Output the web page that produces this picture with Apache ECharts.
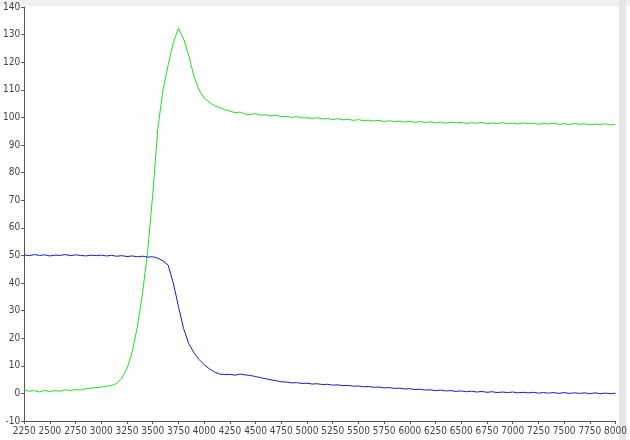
<!DOCTYPE html>
<html>
<head>
<meta charset="utf-8">
<script src="https://cdn.jsdelivr.net/npm/echarts@6/dist/echarts.min.js"></script>
<style>
  html, body { margin: 0; padding: 0; background: #fff; }
  #chart { width: 630px; height: 440px; }
</style>
</head>
<body>
<div id="chart"></div>
<script>
  // x positions of the samples
  const xs = [
    2250, 2300, 2350, 2400, 2450, 2500, 2550, 2600, 2650, 2700,
    2750, 2800, 2850, 2900, 2950, 3000, 3050, 3100, 3150, 3200,
    3250, 3300, 3350, 3400, 3450, 3500, 3550, 3600, 3650, 3700,
    3750, 3800, 3850, 3900, 3950, 4000, 4050, 4100, 4150, 4200,
    4250, 4300, 4350, 4400, 4450, 4500, 4550, 4600, 4650, 4700,
    4750, 4800, 4850, 4900, 4950, 5000, 5050, 5100, 5150, 5200,
    5250, 5300, 5350, 5400, 5450, 5500, 5550, 5600, 5650, 5700,
    5750, 5800, 5850, 5900, 5950, 6000, 6050, 6100, 6150, 6200,
    6250, 6300, 6350, 6400, 6450, 6500, 6550, 6600, 6650, 6700,
    6750, 6800, 6850, 6900, 6950, 7000, 7050, 7100, 7150, 7200,
    7250, 7300, 7350, 7400, 7450, 7500, 7550, 7600, 7650, 7700,
    7750, 7800, 7850, 7900, 7950, 8000
  ];

  // green trace
  const greenVals = [
    1.2, 0.8, 1.0, 0.5, 1.1, 0.7, 1.0, 0.8, 1.3, 1.0,
    1.4, 1.2, 1.7, 1.9, 2.1, 2.3, 2.6, 2.9, 3.6, 5.5,
    9.0, 15.0, 24.0, 36.0, 51.0, 72.0, 96.0, 110.0, 119.0, 127.0,
    132.3, 128.5, 122.5, 115.0, 110.0, 107.0, 105.5, 104.2, 103.6, 102.8,
    102.3, 101.7, 101.9, 101.2, 101.0, 101.4, 100.8, 100.9, 100.5, 100.8,
    100.3, 100.4, 100.0, 100.3, 99.8, 99.9, 99.6, 99.9, 99.4, 99.6,
    99.2, 99.5, 99.1, 99.3, 98.9, 99.2, 98.8, 99.0, 98.7, 98.9,
    98.5, 98.8, 98.4, 98.7, 98.3, 98.6, 98.2, 98.5, 98.1, 98.4,
    98.0, 98.3, 97.9, 98.3, 98.0, 98.2, 97.8, 98.1, 97.9, 98.2,
    97.7, 98.0, 97.8, 98.1, 97.7, 97.9, 97.6, 98.0, 97.7, 97.9,
    97.5, 97.8, 97.6, 97.9, 97.5, 97.7, 97.4, 97.8, 97.5, 97.7,
    97.3, 97.6, 97.4, 97.7, 97.3, 97.5
  ];

  // blue trace
  const blueVals = [
    50.2, 49.9, 50.3, 50.0, 50.2, 49.8, 50.1, 50.0, 50.3, 49.9,
    50.2, 50.0, 49.8, 50.1, 49.9, 50.1, 49.8, 50.0, 49.7, 49.9,
    49.6, 49.8, 49.5, 49.7, 49.4, 49.5, 49.0, 48.0, 46.5, 40.0,
    31.5, 23.5, 18.0, 14.8, 12.3, 10.4, 8.9, 7.8, 7.0, 6.8,
    6.9, 6.6, 7.0, 6.7, 6.5, 6.1, 5.7, 5.3, 4.9, 4.6,
    4.2, 4.1, 3.8, 3.9, 3.6, 3.7, 3.4, 3.5, 3.2, 3.3,
    3.0, 3.1, 2.8, 2.9, 2.6, 2.7, 2.4, 2.5, 2.2, 2.3,
    2.0, 2.1, 1.8, 1.9, 1.6, 1.7, 1.4, 1.5, 1.2, 1.3,
    1.0, 1.2, 0.9, 1.0, 0.7, 0.9, 0.6, 0.8, 0.5, 0.7,
    0.4, 0.6, 0.3, 0.5, 0.3, 0.5, 0.2, 0.4, 0.2, 0.4,
    0.1, 0.3, 0.1, 0.3, 0.0, 0.3, 0.0, 0.2, 0.0, 0.2,
    -0.1, 0.2, -0.1, 0.1, -0.1, 0.1
  ];

  const pairs = (vals) => xs.map((x, i) => [x, vals[i]]);
  const labelFont = "'Liberation Sans Narrow', 'DejaVu Sans Condensed', sans-serif";

  const chart = echarts.init(document.getElementById('chart'));
  chart.setOption({
    animation: false,
    backgroundColor: '#ffffff',
    grid: { left: 19, right: 12, top: 7, bottom: 19 },
    graphic: [
      { type: 'rect', shape: { x: 0, y: 0, width: 630, height: 6 }, style: { fill: '#f0f0f0' }, silent: true },
      { type: 'rect', shape: { x: 619, y: 0, width: 7, height: 440 }, style: { fill: '#e6e6e6' }, silent: true }
    ],
    xAxis: {
      type: 'value',
      min: 2250,
      max: 8000,
      interval: 250,
      splitLine: { show: false },
      axisLine: { onZero: false, lineStyle: { color: '#555', width: 1 } },
      axisTick: { length: 3, lineStyle: { color: '#555' } },
      axisLabel: {
        color: '#444', fontSize: 10, fontFamily: labelFont, margin: 5,
        showMinLabel: true, showMaxLabel: true,
        formatter: (v) => String(v)
      }
    },
    yAxis: {
      type: 'value',
      min: -10,
      max: 140,
      interval: 10,
      splitLine: { show: false },
      axisLine: { show: true, onZero: false, lineStyle: { color: '#555', width: 1 } },
      axisTick: { show: true, length: 3, lineStyle: { color: '#555' } },
      axisLabel: { color: '#444', fontSize: 10, fontFamily: labelFont, margin: 4, formatter: (v) => String(v) }
    },
    series: [
      {
        name: 'green',
        type: 'line',
        data: pairs(greenVals),
        showSymbol: false,
        lineStyle: { color: '#22e022', width: 1 },
        itemStyle: { color: '#22e022' }
      },
      {
        name: 'blue',
        type: 'line',
        data: pairs(blueVals),
        showSymbol: false,
        lineStyle: { color: '#1a1acc', width: 1 },
        itemStyle: { color: '#1a1acc' }
      }
    ]
  });
</script>
</body>
</html>
